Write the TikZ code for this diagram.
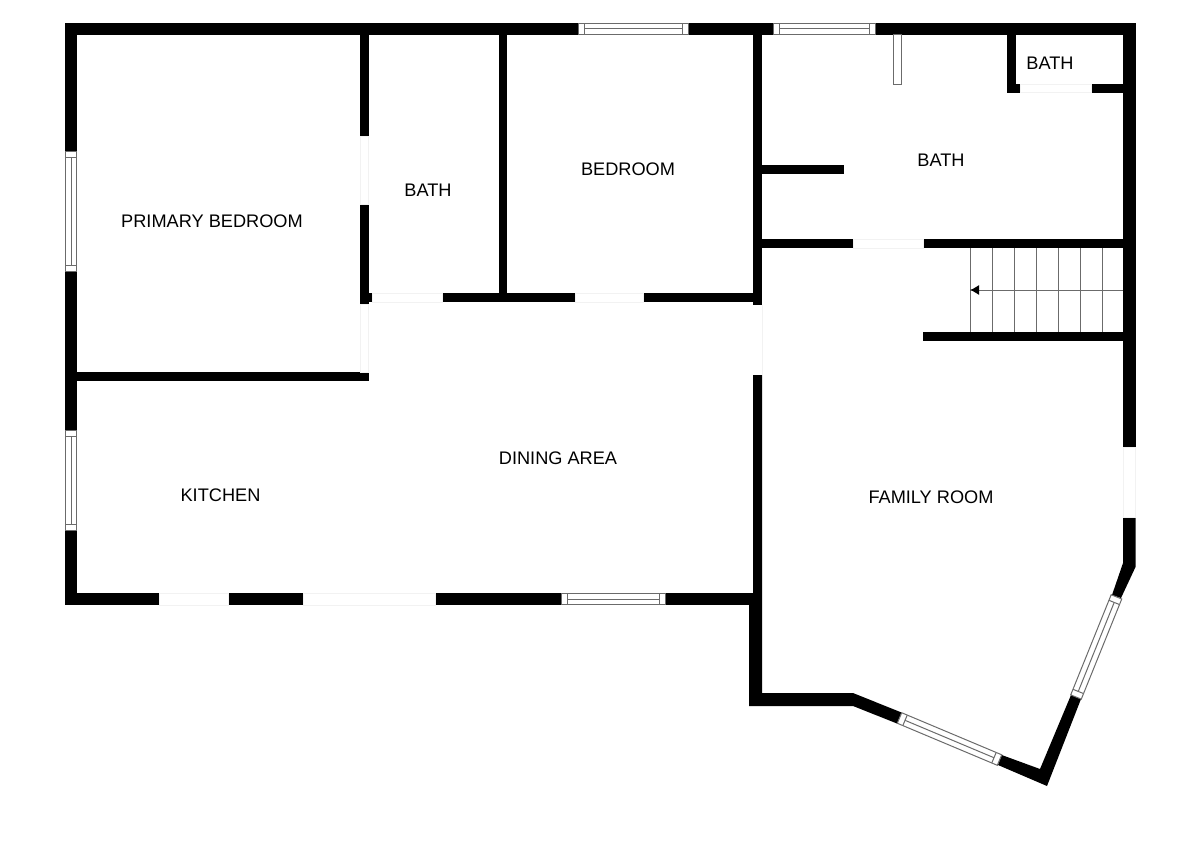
\documentclass[tikz,border=0pt]{standalone}
\usepackage{fontspec}
\setmainfont{Liberation Sans}
\usetikzlibrary{arrows.meta}
\definecolor{paneline}{gray}{0.42}
\definecolor{gapline}{gray}{0.95}
\tikzset{
    wall/.style={fill=black},
    pane/.style={draw=paneline, line width=0.02cm, fill=white},
    gap/.style={draw=gapline, line width=0.015cm, fill=white},
    roomlabel/.style={font=\fontsize{10.35pt}{12pt}\selectfont, inner sep=0pt},
}
\begin{document}
\begin{tikzpicture}[x=0.02cm, y=-0.02cm]
    \useasboundingbox (0,0) rectangle (1200,855);
    % Outer walls
    \foreach \xa/\ya/\xb/\yb in {65/23/578/35, 688/23/773/35, 875/23/1135.5/35,
        65/23/77/151, 65/271/77/430, 65/530/77/605, 1123/23/1135.5/447,
        65/593/159/605, 228/593/303/605, 435/593/561/605, 665/593/753/605}
        \fill[wall] (\xa,\ya) rectangle (\xb,\yb);
    % Inner walls
    \foreach \xa/\ya/\xb/\yb in {360/35/369/136, 360/204/369/304, 369/293/372/302,
        499/35/507/293, 442/293/575/302, 643/293/753/302, 753/35/762/305,
        77/372/369/381, 762/165/844/174, 762/239/853/248, 923/239/1123/248,
        923/332/1123/341, 1007/35/1016/93, 1016/84/1020/93, 1091/84/1123/93}
        \fill[wall] (\xa,\ya) rectangle (\xb,\yb);
    % Family room walls
    \fill[wall] (762,375) -- (762,693) -- (853,693) -- (901.5,712.5) -- (897,723.5)
        -- (853,706) -- (749,706) -- (749,605) -- (753,605) -- (753,375) -- cycle;
    \fill[wall] (1001.7,755) -- (1040,769) -- (1071,695) -- (1081,699) -- (1047,786)
        -- (998,765) -- cycle;
    \fill[wall] (1112,595) -- (1123,563) -- (1123,517) -- (1135.5,517) -- (1135.5,567)
        -- (1121,598) -- cycle;
    % Openings
    \foreach \xa/\ya/\xb/\yb in {159/593/228/605, 303/593/435/605, 1123/447/1135.5/517,
        360.5/136/368.5/204, 360.5/304.5/368.5/372, 372/293.5/442/302, 575/293.5/643/302,
        853/239.5/923/248, 1020/84.5/1091/92.5}
        \draw[gap] (\xa,\ya) rectangle (\xb,\yb);
    \draw[gap] (762,305) -- (762,375);
    % Windows
    \foreach \x/\y/\ang/\len in {578/29/0/110, 773/29/0/102, 561/599/0/104,
        71/151/-90/120, 71/430/-90/100, 899.5/718/-22.8/108.5, 1076/697/68/108}
    {
        \begin{scope}[shift={(\x,\y)}, rotate=\ang]
            \draw[pane] (0,-5.7) rectangle (\len,5.7);
            \draw[pane] (6,-5.7) -- (6,5.7);
            \draw[pane] (\len-6,-5.7) -- (\len-6,5.7);
            \draw[pane] (6,0) -- (\len-6,0);
        \end{scope}
    }
    % Post
    \draw[pane] (893.5,35) rectangle (901.5,85);
    % Stairs
    \foreach \x in {970,992,...,1102}
        \draw[paneline, line width=0.02cm] (\x,248) -- (\x,332);
    \coordinate (stairtop) at (1123,290);
    \coordinate (stairend) at (970,290);
    \draw[-{Latex[length=0.18cm,width=0.2cm,black]}, paneline, line width=0.02cm] (stairtop) -- (stairend);
    % Rooms
    \node[roomlabel] (primary) at (212,221) {PRIMARY BEDROOM};
    \node[roomlabel] (bathmid) at (428,190.5) {BATH};
    \node[roomlabel] (bedroom) at (628,169.5) {BEDROOM};
    \node[roomlabel] (bathbig) at (941,160.5) {BATH};
    \node[roomlabel] (bathsmall) at (1050,63.5) {BATH};
    \node[roomlabel] (dining) at (558,458.5) {DINING AREA};
    \node[roomlabel] (kitchen) at (220.5,495) {KITCHEN};
    \node[roomlabel] (family) at (931,497.5) {FAMILY ROOM};
\end{tikzpicture}
\end{document}
